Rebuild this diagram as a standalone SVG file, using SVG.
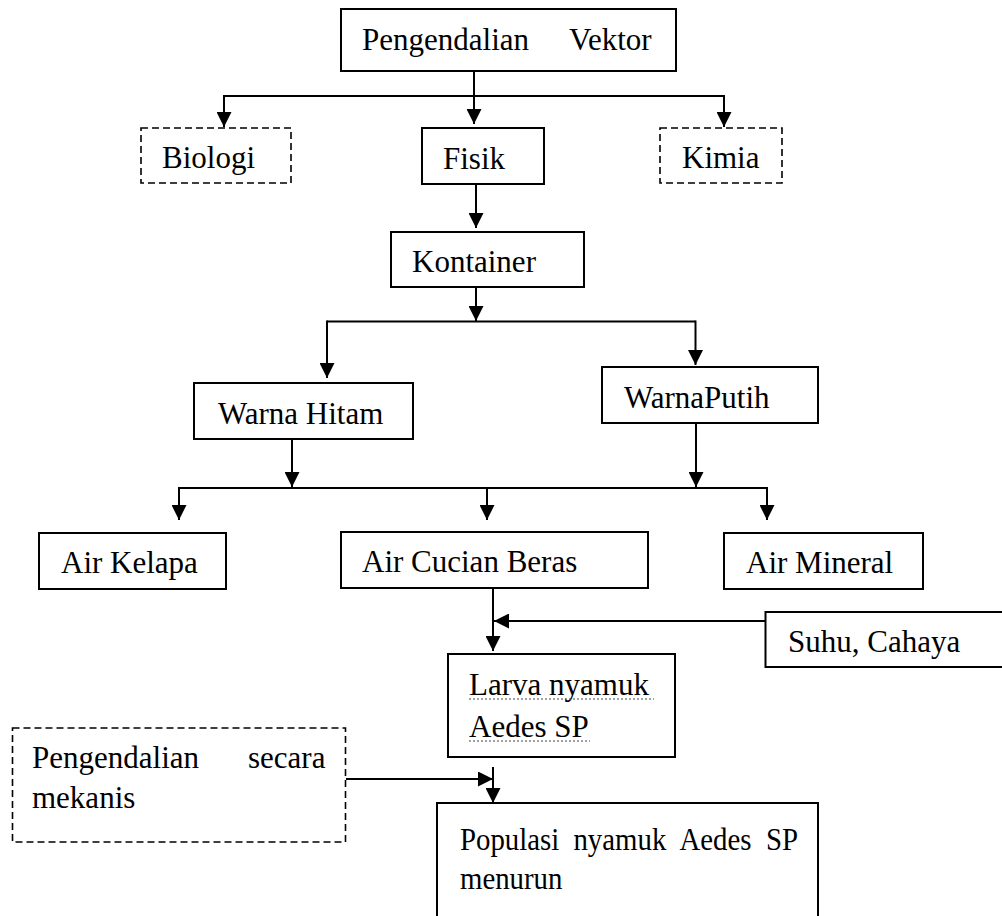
<svg xmlns="http://www.w3.org/2000/svg" width="1002" height="916" viewBox="0 0 1002 916">
<defs>
<style>
.box{fill:#fff;stroke:#000;stroke-width:2}
.dash{fill:#fff;stroke:#000;stroke-width:1.6;stroke-dasharray:7 4}
.t{font-family:"Liberation Serif","Times New Roman",serif;font-size:31px;fill:#000}
.c{fill:none;stroke:#000;stroke-width:2}
.dot{stroke:#444;stroke-width:1.2;stroke-dasharray:2 2}
</style>
<marker id="ah" markerUnits="userSpaceOnUse" markerWidth="15" markerHeight="15" viewBox="0 0 15 15" refX="15" refY="7.5" orient="auto"><path d="M0,0 L15,7.5 L0,15 z" fill="#000"/></marker>
</defs>
<rect width="1002" height="916" fill="#fff"/>
<g id="connectors">
<path class="c" d="M474,71 V124" marker-end="url(#ah)"/>
<path class="c" d="M224,96 H724"/>
<path class="c" d="M224,95 V127" marker-end="url(#ah)"/>
<path class="c" d="M724,95 V127" marker-end="url(#ah)"/>
<path class="c" d="M476,184 V228" marker-end="url(#ah)"/>
<path class="c" d="M476,287 V321" marker-end="url(#ah)"/>
<path class="c" d="M327,321.5 H695.5"/>
<path class="c" d="M327,320.5 V378" marker-end="url(#ah)"/>
<path class="c" d="M695.5,320.5 V365" marker-end="url(#ah)"/>
<path class="c" d="M292,439 V487" marker-end="url(#ah)"/>
<path class="c" d="M696,423 V487" marker-end="url(#ah)"/>
<path class="c" d="M179,488 H767"/>
<path class="c" d="M179,487 V520" marker-end="url(#ah)"/>
<path class="c" d="M487,487 V520" marker-end="url(#ah)"/>
<path class="c" d="M767,487 V520" marker-end="url(#ah)"/>
<path class="c" d="M493,588 V651" marker-end="url(#ah)"/>
<path class="c" d="M765,621 H494" marker-end="url(#ah)"/>
<path class="c" d="M346,779 H493" marker-end="url(#ah)"/>
<path class="c" d="M493,767 V803" marker-end="url(#ah)"/>
</g>
<g id="n-vektor"><rect class="box" x="341" y="9" width="335" height="62"/><text class="t" y="50"><tspan x="362">Pengendalian</tspan><tspan x="569">Vektor</tspan></text></g>
<g id="n-biologi"><rect class="dash" x="141" y="128" width="150" height="55"/><text class="t" x="162" y="168">Biologi</text></g>
<g id="n-fisik"><rect class="box" x="422" y="128" width="122" height="56"/><text class="t" x="443" y="169">Fisik</text></g>
<g id="n-kimia"><rect class="dash" x="660" y="128" width="122" height="55"/><text class="t" x="682" y="168">Kimia</text></g>
<g id="n-kontainer"><rect class="box" x="391" y="232" width="193" height="55"/><text class="t" x="412" y="272">Kontainer</text></g>
<g id="n-hitam"><rect class="box" x="194" y="383" width="219" height="56"/><text class="t" x="218" y="424">Warna Hitam</text></g>
<g id="n-putih"><rect class="box" x="602" y="367" width="216" height="56"/><text class="t" x="624" y="408">WarnaPutih</text></g>
<g id="n-kelapa"><rect class="box" x="39" y="533" width="187" height="56"/><text class="t" x="61" y="573">Air Kelapa</text></g>
<g id="n-beras"><rect class="box" x="341" y="532" width="307" height="56"/><text class="t" x="362" y="572">Air Cucian Beras</text></g>
<g id="n-mineral"><rect class="box" x="724" y="533" width="199" height="56"/><text class="t" x="746" y="573">Air Mineral</text></g>
<g id="n-suhu"><rect class="box" x="765.5" y="612" width="245" height="55"/><text class="t" x="788" y="652">Suhu, Cahaya</text></g>
<g id="n-larva"><rect class="box" x="448" y="654" width="227" height="103"/><text class="t" x="469" y="695">Larva nyamuk</text><text class="t" x="469" y="737">Aedes SP</text><line class="dot" x1="469" y1="699" x2="654" y2="699"/><line class="dot" x1="469" y1="741" x2="590" y2="741"/></g>
<g id="n-mekanis"><rect class="dash" x="12.5" y="728" width="333" height="114"/><text class="t" y="768"><tspan x="32">Pengendalian</tspan><tspan x="248">secara</tspan></text><text class="t" x="32" y="808">mekanis</text></g>
<g id="n-populasi"><rect class="box" x="437" y="803" width="381" height="140"/><g transform="translate(460,0) scale(0.93,1)"><text class="t" y="850"><tspan x="0">Populasi</tspan><tspan x="122">nyamuk</tspan><tspan x="236">Aedes</tspan><tspan x="329">SP</tspan></text><text class="t" x="0" y="889">menurun</text></g></g>
</svg>
